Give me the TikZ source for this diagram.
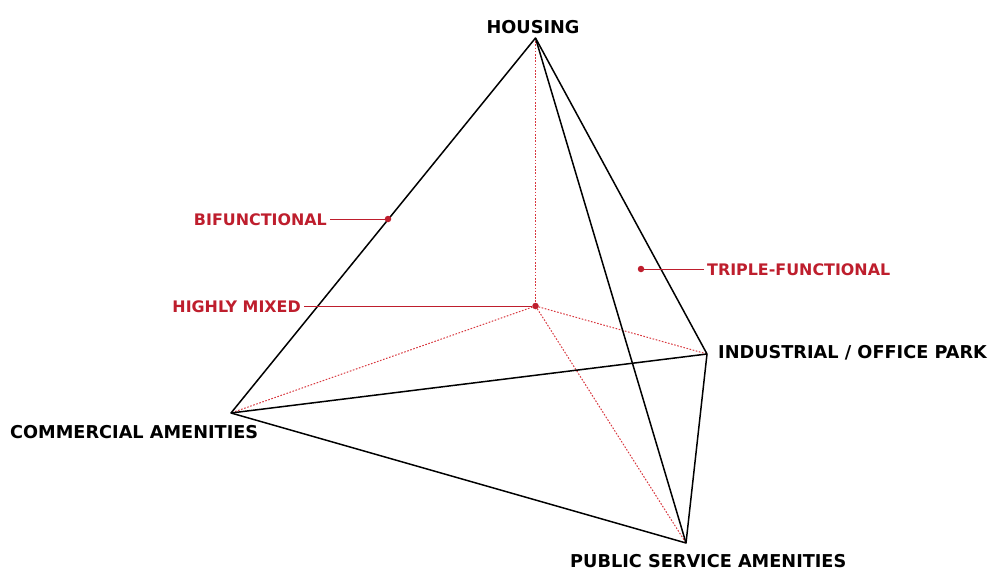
\documentclass[tikz,border=0pt]{standalone}
\usepackage{fontspec}
\setmainfont{DejaVu Sans}
\usepackage{xcolor}
\definecolor{mixRed}{HTML}{BE1E2D}
\definecolor{hiddenRed}{HTML}{D8383F}
\tikzset{
  vertexlabel/.style={inner sep=0pt, font=\fontsize{17.7}{20}\selectfont\bfseries, text=black},
  mixlabel/.style={inner sep=0pt, font=\fontsize{15.9}{19}\selectfont\bfseries, text=mixRed},
  edge/.style={draw=black, line width=1.5pt, line join=round},
  hidden/.style={draw=hiddenRed, line width=1pt, dash pattern=on 1.6pt off 1.6pt},
  leader/.style={draw=mixRed, line width=0.9pt, shorten <=3pt},
  mixdot/.style={circle, fill=mixRed, inner sep=0pt, minimum size=6.5pt},
}

\begin{document}
\begin{tikzpicture}[x=1pt, y=-1pt]
\useasboundingbox (0,0) rectangle (990,570);

% corners of the tetrahedron
\coordinate (H) at (535.5,38);
\coordinate (C) at (231,413);
\coordinate (I) at (707,354);
\coordinate (P) at (686,543);
\coordinate (M) at (535.5,306);

% hidden edges towards the centre
\draw[hidden] (H) -- (M);
\draw[hidden] (M) -- (C);
\draw[hidden] (M) -- (I);
\draw[hidden] (M) -- (P);

% visible edges
\draw[edge] (C) -- (H) -- (I) -- (P) -- cycle;
\draw[edge] (H) -- (P);
\draw[edge] (C) -- (I);

% corner labels
\node[vertexlabel, anchor=base] (housing) at (533,33) {HOUSING};
\node[vertexlabel, anchor=base west] (commercial) at (10,438) {COMMERCIAL AMENITIES};
\node[vertexlabel, anchor=base west] (industrial) at (718,358) {INDUSTRIAL / OFFICE PARK};
\node[vertexlabel, anchor=base west] (public) at (570,567) {PUBLIC SERVICE AMENITIES};

% mixing levels
\node[mixdot] (bidot) at (388,219) {};
\node[mixdot] (mixdot) at (M) {};
\node[mixdot] (tridot) at (641,269) {};

\node[mixlabel, anchor=base east] (bifunctional) at (327,225) {BIFUNCTIONAL};
\node[mixlabel, anchor=base east] (mixed) at (301,312) {HIGHLY MIXED};
\node[mixlabel, anchor=base west] (triple) at (707,275) {TRIPLE-FUNCTIONAL};

\draw[leader] (bidot -| bifunctional.east) -- (bidot);
\draw[leader] (mixdot -| mixed.east) -- (mixdot);
\draw[leader] (tridot -| triple.west) -- (tridot);
\end{tikzpicture}
\end{document}
